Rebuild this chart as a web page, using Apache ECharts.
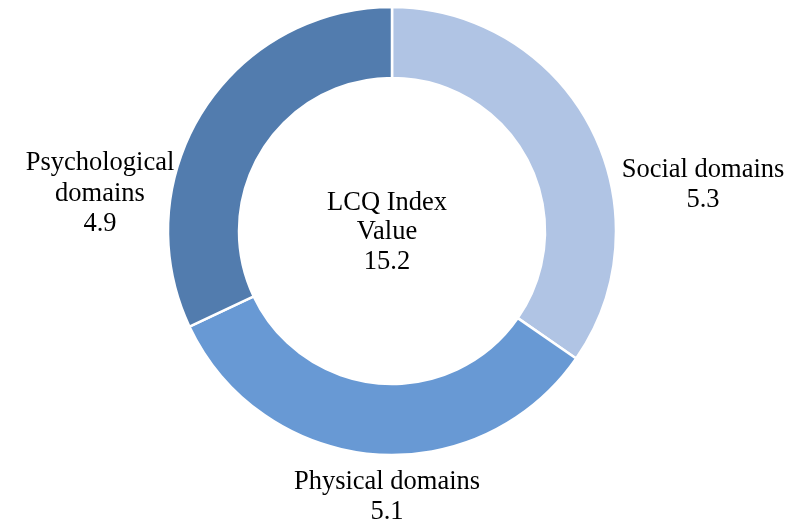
<!DOCTYPE html>
<html>
<head>
<meta charset="utf-8">
<script src="https://cdn.jsdelivr.net/npm/echarts@6/dist/echarts.min.js"></script>
<style>html,body{margin:0;padding:0;background:#fff}#c{width:794px;height:525px}</style>
</head>
<body>
<div id="c"></div>
<script>
const categories = ["Social domains", "Physical domains", "Psychological domains"];
const values = [5.3, 5.1, 4.9];
const centerLines = ["LCQ Index", "Value", "15.2"];

const colors = ["#B0C4E4", "#6899D4", "#527CAE"];
const labelPos = [[703, 185], [387, 497], [100, 194]];
const FONT = "'Liberation Serif', 'Times New Roman', serif";

const chart = echarts.init(document.getElementById('c'), null, {renderer: 'canvas'});
chart.setOption({
  backgroundColor: '#fff',
  animation: false,
  title: {
    text: centerLines.join('\n'),
    left: 387, top: 188, textAlign: 'center',
    padding: 0,
    textStyle: {fontFamily: FONT, fontSize: 26.5, fontWeight: 'normal', color: '#000', lineHeight: 29.5}
  },
  series: [{
    type: 'pie',
    center: [392, 231],
    radius: [153, 224],
    startAngle: 90,
    clockwise: true,
    avoidLabelOverlap: false,
    itemStyle: {borderColor: '#fff', borderWidth: 2.5},
    label: {
      show: true,
      fontFamily: FONT, fontSize: 26.5, color: '#000', lineHeight: 30.5,
      align: 'center',
      formatter: p => (p.dataIndex === 2 ? p.name.replace(' ', '\n') : p.name) + '\n' + p.value
    },
    labelLine: {show: false},
    labelLayout: p => ({x: labelPos[p.dataIndex][0], y: labelPos[p.dataIndex][1], align: 'center', verticalAlign: 'middle'}),
    emphasis: {disabled: true},
    data: categories.map((n, i) => ({name: n, value: values[i], itemStyle: {color: colors[i]}}))
  }]
});
</script>
</body>
</html>
